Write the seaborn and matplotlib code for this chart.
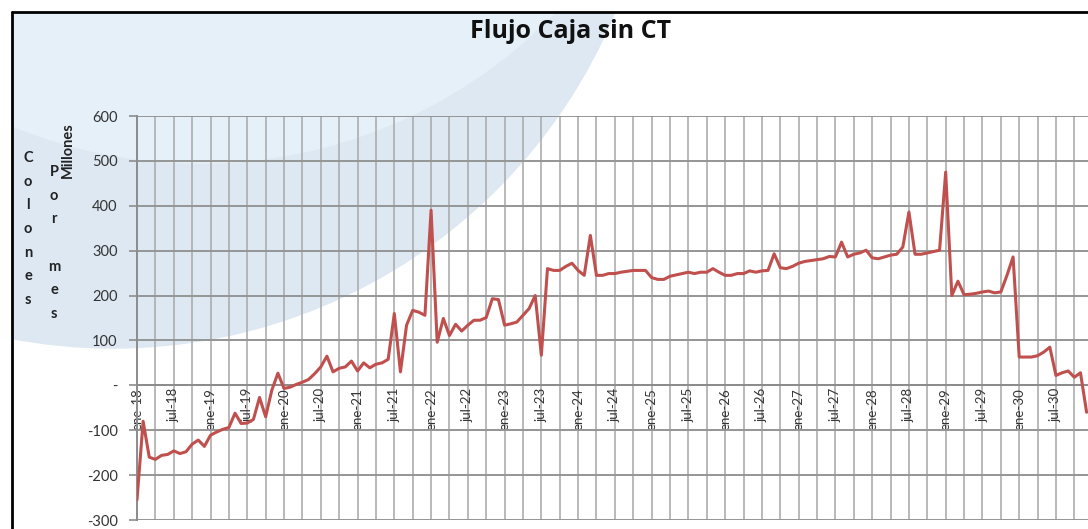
import matplotlib
matplotlib.use("Agg")
import matplotlib.pyplot as plt
from matplotlib.patches import Ellipse, Rectangle
from matplotlib.lines import Line2D
from matplotlib.ticker import FixedLocator, MultipleLocator
import seaborn as sns
import pandas as pd

# Monthly cash flow without CT, millions of colones (ene-18 .. dic-30)
flujo = [
    -255, -80, -160, -165, -156, -154, -146, -152, -148, -131, -122, -136,
    -111, -104, -98, -94, -62, -85, -84, -76, -27, -70, -11, 27,
    -7, -4, 2, 7, 13, 26, 41, 65, 30, 38, 41, 54,
    32, 50, 39, 47, 50, 58, 160, 30, 134, 167, 163, 156,
    390, 96, 149, 111, 136, 121, 134, 145, 145, 151, 193, 191,
    134, 137, 141, 156, 171, 200, 67, 260, 256, 256, 265, 272,
    256, 245, 334, 245, 245, 249, 249, 252, 254, 256, 256, 256,
    240, 236, 236, 243, 246, 249, 252, 249, 252, 252, 260, 252,
    245, 245, 249, 249, 255, 252, 255, 256, 293, 262, 260, 265,
    272, 276, 278, 280, 282, 287, 286, 319, 286, 292, 295, 301,
    284, 282, 286, 290, 292, 308, 386, 292, 292, 295, 298, 301,
    475, 200, 232, 202, 203, 205, 208, 210, 206, 208, 245, 286,
    63, 63, 63, 66, 74, 85, 22, 28, 32, 18, 28, -60,
]
anios = list(range(18, 31))
meses_tick = ["ene", "jul"]
y_ticks = [600, 500, 400, 300, 200, 100, 0, -100, -200, -300]
y_labels = ["600", "500", "400", "300", "200", "100", "-", "-100", "-200", "-300"]

df = pd.DataFrame({"mes": range(len(flujo)), "flujo": flujo})
x_ticks = [i * 6 for i in range(len(anios) * 2)]
x_labels = [f"{meses_tick[i % 2]}-{anios[i // 2]}" for i in range(len(anios) * 2)]

sns.set_theme(style="white")
plt.rcParams["font.family"] = ["Lato", "DejaVu Sans"]

W, H = 1088, 529
fig = plt.figure(figsize=(W / 100, H / 100), dpi=100, facecolor="white")

# background swoosh (circles in pixel space) and border of the chart area
clip = Rectangle((12 / W, 0), 1, 1 - 12 / H, transform=fig.transFigure)
outer = Ellipse((113 / W, 1 + 195 / H), 2 * 543 / W, 2 * 543 / H,
                transform=fig.transFigure, color="#dde8f3", zorder=-2)
inner = Ellipse((200 / W, 1 + 330 / H), 2 * 493 / W, 2 * 493 / H,
                transform=fig.transFigure, color="#e6f0f8", zorder=-1)
for e in (outer, inner):
    e.set_clip_path(clip)
    fig.add_artist(e)
fig.add_artist(Line2D([12 / W, 1], [1 - 12 / H] * 2, transform=fig.transFigure,
                      color="black", lw=2))
fig.add_artist(Line2D([12 / W] * 2, [0, 1 - 12 / H], transform=fig.transFigure,
                      color="black", lw=2))

ax = fig.add_axes([137 / W, 1 - 520 / H, 1 - 137 / W, (520 - 116) / H])
ax.set_facecolor("none")

sns.lineplot(data=df, x="mes", y="flujo", ax=ax, color="#c0504d", linewidth=2.2, zorder=5)

ax.set_xlim(0, (W - 138) / 6.12)
ax.set_ylim(-300, 600)
ax.yaxis.set_major_locator(FixedLocator(y_ticks))
ax.set_yticklabels(y_labels)
ax.xaxis.set_major_locator(FixedLocator(x_ticks))
ax.xaxis.set_minor_locator(MultipleLocator(3))
ax.set_xticklabels(x_labels)
ax.grid(True, which="major", axis="y", color="#959595", lw=1.4)
ax.grid(True, which="both", axis="x", color="#adadad", lw=1.2)
ax.set_axisbelow(True)

for s in ["top", "right"]:
    ax.spines[s].set_visible(False)
ax.spines["left"].set_color("#8c8c8c")
ax.spines["left"].set_linewidth(1.4)
ax.spines["bottom"].set_position(("data", 0))
ax.spines["bottom"].set_color("#8c8c8c")
ax.spines["bottom"].set_linewidth(1.4)
ax.tick_params(axis="y", which="major", left=True, length=6, width=1.2, color="#8c8c8c",
               labelsize=10.5, labelcolor="#333333", pad=8)
ax.tick_params(axis="x", which="both", length=0, labelsize=9.5, labelcolor="#333333",
               pad=2, labelrotation=90)
ax.set_xlabel("")
ax.set_ylabel("")

fig.text(571 / W, 1 - 32 / H, "Flujo Caja sin CT", ha="center", va="center",
         fontsize=18, fontweight="bold", color="#111111",
         family=["Open Sans", "DejaVu Sans"])

for i, ch in enumerate("Colones"):
    fig.text(28 / W, 1 - (158 + i * 23.7) / H, ch, ha="center", va="center",
             fontsize=10.5, fontweight="bold", color="#222222")
for i, ch in enumerate("Por mes"):
    fig.text(54 / W, 1 - (172 + i * 23.7) / H, ch, ha="center", va="center",
             fontsize=10.5, fontweight="bold", color="#222222")
fig.text(68 / W, 1 - 150 / H, "Millones", ha="center", va="center", rotation=90,
         fontsize=10.5, fontweight="bold", color="#222222")

fig.savefig("out.png", dpi=100)
